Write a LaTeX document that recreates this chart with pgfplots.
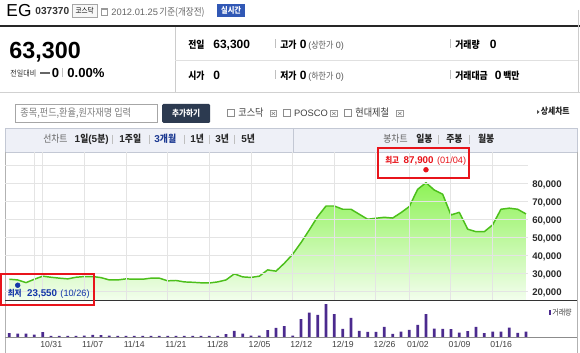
\documentclass[border=0pt]{standalone}
\usepackage{pgfplots}
\pgfplotsset{compat=1.18}
\usepackage{pgfplotstable}
\usepackage{fontspec}
\setmainfont{Liberation Sans}
\newfontfamily\kr[FakeStretch=0.88]{Noto Sans CJK KR}
\newcommand\fs[1]{\fontsize{#1}{#1}\selectfont}
\definecolor{lineg}{HTML}{4CBF1B}
\definecolor{fillTop}{HTML}{8EF257}
\definecolor{fillBot}{HTML}{F3FEEE}
\definecolor{volc}{HTML}{4B2A8E}
\definecolor{hired}{HTML}{E8141B}
\definecolor{loblue}{HTML}{1336A8}
\definecolor{tabbg}{HTML}{EEF0F7}
\definecolor{tabbd}{HTML}{C3C8D4}
\definecolor{navybtn}{HTML}{2C3A50}
\definecolor{rtblue}{HTML}{3158B5}
\definecolor{tabblue}{HTML}{1D3A92}
\definecolor{gridc}{HTML}{E4E4E4}
\definecolor{ylab}{HTML}{2A2A2A}

\pgfplotstableread{
i p v
0 26900 12
1 26500 11
2 25000 11
3 26900 8
4 28600 15
5 28000 4
6 27500 4
7 27100 4
8 28000 4
9 28400 5
10 28400 7
11 27800 6
12 26500 5
13 26500 4
14 27100 4
15 26900 4
16 26900 4
17 27500 4
18 27500 4
19 26000 4
20 26200 4
21 25400 4
22 25200 4
23 24900 4
24 24800 4
25 25400 4
26 26500 9
27 29900 19
28 28200 11
29 27900 5
30 28600 5
31 32100 21
32 31400 28
33 35800 33
34 40800 5
35 47300 54
36 54400 74
37 61800 67
38 67700 99
39 67700 69
40 65900 25
41 65900 58
42 63100 19
43 60300 16
44 60900 16
45 61400 31
46 61000 10
47 64000 17
48 67400 22
49 77000 37
50 80700 69
51 76600 26
52 74300 25
53 62700 24
54 64200 14
55 54800 18
56 53400 31
57 53400 12
58 57200 17
59 65900 17
60 66500 29
61 65900 13
62 63300 17
}\chartdata

\begin{document}
\begin{tikzpicture}
\begin{scope}[x=0.75pt,y=-0.75pt]
\path[use as bounding box] (0,0) rectangle (580,353);
\fill[white] (0,0) rectangle (580,353);
% ---------- header ----------
\node[anchor=base west,inner sep=0] at (6,17) {\fs{13}EG};
\node[anchor=base west,inner sep=0,text=black!80] at (35,15) {\bfseries\fs{7.6}037370};
\draw[black!35,fill=black!3] (72,4) rectangle (97,17);
\node[anchor=base,inner sep=0] at (84.5,13.8) {\kr\fs{5.6}코스닥};
\draw[black!40,line width=0.6pt] (101,8) rectangle (107.5,15);
\fill[black!40] (101,8) rectangle (107.5,9.6);
\node[anchor=base west,inner sep=0,text=black!60] at (111,15.5) {\fs{7}2012.01.25};
\node[anchor=base west,inner sep=0,text=black!60] at (159,15.8) {\kr\fs{7.3}기준(개장전)};
\fill[rtblue] (217,4) rectangle (245,17);
\node[anchor=base,inner sep=0,text=white] at (231,14) {\kr\bfseries\fs{6.2}실시간};
\draw[black!85,line width=1.5pt] (0,26.3) -- (580,26.3);
\draw[black!18] (0,92) -- (580,92);
\draw[black!20] (578,10) -- (578,92);
% big price
\node[anchor=base west,inner sep=0] at (9,58.3) {\bfseries\fs{17.5}63,300};
\node[anchor=base west,inner sep=0,text=black!80] at (10,76.5) {\kr\fs{6}전일대비};
\draw[black!60,line width=1.6pt] (40,72.6) -- (50,72.6);
\node[anchor=base west,inner sep=0] at (51.5,77.3) {\bfseries\fs{9.8}0};
\draw[black!25] (62.5,68) -- (62.5,77.5);
\node[anchor=base west,inner sep=0] at (67,77.3) {\bfseries\fs{9.8}0.00\%};
\draw[black!20] (175,27) -- (175,92);
\draw[black!12] (175,60.5) -- (578,60.5);
% row 1
\node[anchor=base west,inner sep=0] at (188,48.3) {\kr\bfseries\fs{7.5}전일};
\node[anchor=base west,inner sep=0] at (213,48.3) {\bfseries\fs{9}63,300};
\draw[black!25] (275.5,39.5) -- (275.5,48.5);
\node[anchor=base west,inner sep=0] at (280,48.3) {\kr\bfseries\fs{7.5}고가};
\node[anchor=base west,inner sep=0] at (299.5,48.3) {\bfseries\fs{9}0};
\node[anchor=base west,inner sep=0,text=black!65] at (308,48.3) {\fs{6.8}({\kr 상한가} 0)};
\draw[black!25] (450,39.5) -- (450,48.5);
\node[anchor=base west,inner sep=0] at (455,48.3) {\kr\bfseries\fs{7.5}거래량};
\node[anchor=base west,inner sep=0] at (489.5,48.3) {\bfseries\fs{9}0};
% row 2
\node[anchor=base west,inner sep=0] at (188,79.3) {\kr\bfseries\fs{7.5}시가};
\node[anchor=base west,inner sep=0] at (213,79.3) {\bfseries\fs{9}0};
\draw[black!25] (275.5,70.5) -- (275.5,79.5);
\node[anchor=base west,inner sep=0] at (280,79.3) {\kr\bfseries\fs{7.5}저가};
\node[anchor=base west,inner sep=0] at (299.5,79.3) {\bfseries\fs{9}0};
\node[anchor=base west,inner sep=0,text=black!65] at (308,79.3) {\fs{6.8}({\kr 하한가} 0)};
\draw[black!25] (450,70.5) -- (450,79.5);
\node[anchor=base west,inner sep=0] at (455,79.3) {\kr\bfseries\fs{7.5}거래대금};
\node[anchor=base west,inner sep=0] at (494.5,79.3) {\bfseries\fs{9}0};
\node[anchor=base west,inner sep=0] at (503,79.3) {\kr\bfseries\fs{7.5}백만};
% ---------- search row ----------
\draw[black!35,fill=white] (15,104) rectangle (157,122);
\node[anchor=base west,inner sep=0,text=black!50] at (20,117) {\kr\fs{7.8}종목,펀드,환율,원자재명 입력};
\fill[navybtn,rounded corners=1pt] (162,104) rectangle (210,123);
\node[anchor=base,inner sep=0,text=white] at (186,116.3) {\kr\bfseries\fs{6.5}추가하기};
\foreach \bx/\ix in {227/270, 283/330.5, 344/396.5}{
  \draw[black!45,fill=white] (\bx,109.5) rectangle ++(7,7);
  \draw[black!40,fill=white] (\ix,110.5) rectangle ++(6.5,6);
  \draw[black!50,line width=0.4pt] (\ix+1.5,112) -- (\ix+5,115) (\ix+1.5,115) -- (\ix+5,112);
}
\node[anchor=base west,inner sep=0,text=black!75] at (238,117) {\kr\fs{7.8}코스닥};
\node[anchor=base west,inner sep=0,text=black!75] at (293.7,116.6) {\fs{7}POSCO};
\node[anchor=base west,inner sep=0,text=black!75] at (355,117) {\kr\fs{7.8}현대제철};
\fill[black!70] (537,110) -- (539.5,112) -- (537,114) -- cycle;
\node[anchor=base west,inner sep=0,text=black!85] at (540.5,115) {\kr\bfseries\fs{6.7}상세차트};
% ---------- tab bar ----------
\draw[tabbd,fill=tabbg] (5,128) rectangle (577,152);
\draw[tabbd] (293,128) -- (293,152);
\node[anchor=base west,inner sep=0,text=black!60] at (42.8,143) {\kr\fs{7.5}선차트};
\node[anchor=base west,inner sep=0,text=black!85] at (74.3,143) {\bfseries\fs{7.5}1{\kr 일}(5{\kr 분})};
\node[anchor=base west,inner sep=0,text=black!85] at (119,143) {\bfseries\fs{7.5}1{\kr 주일}};
\node[anchor=base west,inner sep=0,text=tabblue] at (154,143) {\bfseries\fs{7.5}3{\kr 개월}};
\node[anchor=base west,inner sep=0,text=black!85] at (190,143) {\bfseries\fs{7.5}1{\kr 년}};
\node[anchor=base west,inner sep=0,text=black!85] at (215,143) {\bfseries\fs{7.5}3{\kr 년}};
\node[anchor=base west,inner sep=0,text=black!85] at (241,143) {\bfseries\fs{7.5}5{\kr 년}};
\node[anchor=base west,inner sep=0,text=black!60] at (383,143) {\kr\fs{7.5}봉차트};
\node[anchor=base west,inner sep=0,text=black!85] at (416,143) {\kr\bfseries\fs{7.5}일봉};
\node[anchor=base west,inner sep=0,text=black!85] at (446,143) {\kr\bfseries\fs{7.5}주봉};
\node[anchor=base west,inner sep=0,text=black!85] at (477.7,143) {\kr\bfseries\fs{7.5}월봉};
\foreach \sx in {112.6,148.7,184,209.5,234.5,438.7,469}{
  \draw[black!25] (\sx,135) -- (\sx,144.5);
}
% frames
\draw[black!30] (5,152) -- (5,353);
\draw[black!30] (577,152) -- (577,353);
\end{scope}

% ---------- price chart ----------
\begin{axis}[
  at={(3.75pt,-225.75pt)}, anchor=south west, scale only axis,
  width=391.95pt, height=111.75pt,
  xmin=-0.5, xmax=62.2, ymin=14820, ymax=97830,
  axis line style={draw=none}, major tick length=0pt,
  scaled y ticks=false, axis on top,
  xtick={3,4,9,14,19,24,29,34,39,44,48,53,58}, xticklabels={},
  ytick={20000,30000,40000,50000,60000,70000,80000},
  yticklabels={{20,000},{30,000},{40,000},{50,000},{60,000},{70,000},{80,000}},
  extra y ticks={90000}, extra y tick labels={},
  extra y tick style={grid=major},
  yticklabel pos=right,
  yticklabel style={anchor=west, inner sep=0pt, xshift=3.3pt, text height=5.1pt, text depth=0pt, font=\bfseries\fs{7.2}, text=ylab},
  grid=major, major grid style={draw=gridc, line width=0.75pt},
]
\addplot[draw=none, top color=fillTop, bottom color=fillBot] table[x=i,y=p]{\chartdata} -- (axis cs:62,14820) -- (axis cs:0,14820) -- cycle;
\addplot[lineg, line width=1.1pt, line join=round] table[x=i,y=p]{\chartdata};
\addplot[only marks, mark=*, mark size=1.8pt, color=hired] coordinates {(50,87900)};
\addplot[only marks, mark=*, mark size=1.8pt, color=loblue] coordinates {(1,23550)};
\end{axis}

% ---------- volume chart ----------
\begin{axis}[
  at={(3.75pt,-252.975pt)}, anchor=south west, scale only axis,
  width=391.95pt, height=27.225pt,
  xmin=-0.5, xmax=62.2, ymin=0, ymax=108.9,
  axis line style={draw=none}, major tick length=0pt,
  ytick=\empty,
  xtick={4,9,14,19,24,29,34,39,44,48,53,58},
  xticklabels={10/31,11/07,11/14,11/21,11/28,12/05,12/12,12/19,12/26,01/02,01/09,01/16},
  xticklabel style={anchor=north west, inner sep=0pt, xshift=-1.9pt, yshift=-2.6pt, text height=4.7pt, text depth=0pt, font=\fs{6.5}, text=black!75},
]
\addplot[ybar, bar width=0.33, fill=volc, draw=none] table[x=i,y=v]{\chartdata};
\end{axis}

\begin{scope}[x=0.75pt,y=-0.75pt]
\draw[black!80,line width=0.75pt] (5,301) -- (577,301);
\draw[black!45,line width=0.75pt] (5,337.3) -- (577,337.3);
% high/low boxes
\draw[hired,line width=1.5pt] (378.3,148.3) rectangle (469.3,178.3);
\node[anchor=base west,inner sep=0,text=hired] at (385,163.8) {\kr\bfseries\fs{6.4}최고};
\node[anchor=base west,inner sep=0,text=hired] at (403.3,163.8) {\bfseries\fs{7.35}87,900};
\node[anchor=base west,inner sep=0,text=hired] at (436.7,163.8) {\fs{6.9}(01/04)};
\draw[hired,line width=1.5pt] (0.8,274.2) rectangle (94.2,305.5);
\node[anchor=base west,inner sep=0,text=loblue] at (7.3,296.8) {\kr\bfseries\fs{6.4}최저};
\node[anchor=base west,inner sep=0,text=loblue] at (26.7,296.8) {\bfseries\fs{7.35}23,550};
\node[anchor=base west,inner sep=0,text=loblue] at (60,296.8) {\fs{6.9}(10/26)};
% volume legend
\fill[volc] (548.5,310) rectangle (550.8,315.5);
\node[anchor=base west,inner sep=0,text=black!75] at (552,315.5) {\kr\fs{6}거래량};
\end{scope}
\end{tikzpicture}
\end{document}
